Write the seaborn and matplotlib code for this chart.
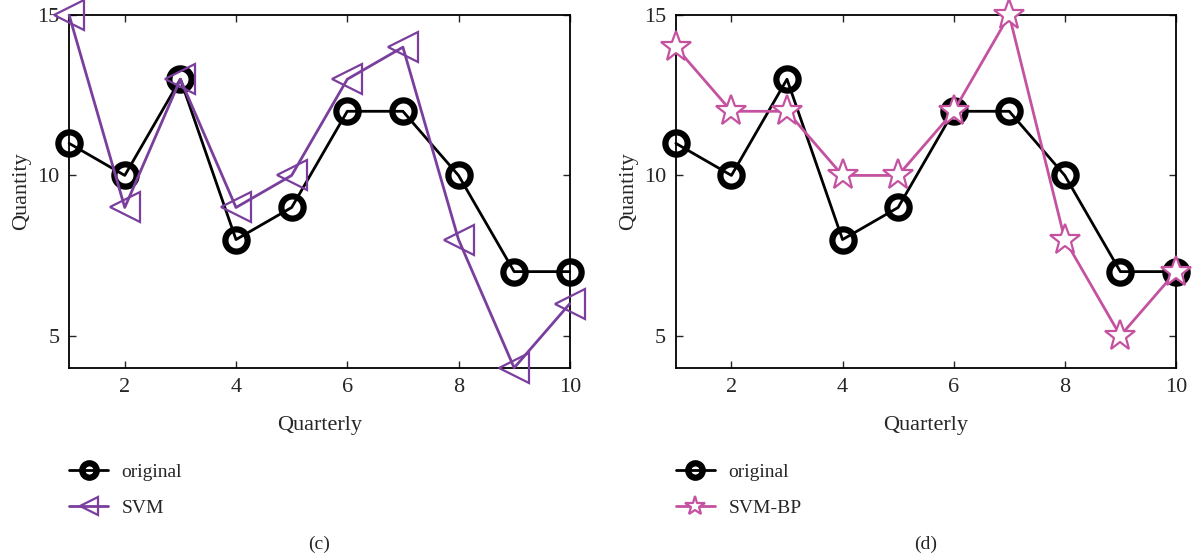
import numpy as np
import matplotlib
matplotlib.use("Agg")
import matplotlib.pyplot as plt
import seaborn as sns

quarters = list(range(1, 11))
original = [11, 10, 13, 8, 9, 12, 12, 10, 7, 7]
svm = [15, 9, 13, 9, 10, 13, 14, 8, 4, 6]
svm_bp = [14, 12, 12, 10, 10, 12, 15, 8, 5, 7]
x_ticks = [2, 4, 6, 8, 10]
y_ticks = [5, 10, 15]

sns.set_style("ticks")
plt.rcParams['font.family'] = ['Liberation Serif', 'DejaVu Serif']
plt.rcParams['font.size'] = 16

fig = plt.figure(figsize=(11.92, 5.59), dpi=100)
ax1 = fig.add_axes([0.058, 0.342, 0.420, 0.631])
ax2 = fig.add_axes([0.567, 0.342, 0.4195, 0.631])

purple = '#7A3E9D'
pink = '#C452A0'


def draw_original(ax):
    sns.lineplot(x=quarters, y=original, ax=ax, color='black', lw=2,
                 marker='o', markersize=16, markerfacecolor='none',
                 markeredgecolor='black', markeredgewidth=4.5,
                 label='original', clip_on=False, zorder=3)


draw_original(ax1)
sns.lineplot(x=quarters, y=svm, ax=ax1, color=purple, lw=2,
             marker='<', markersize=21, markerfacecolor='none',
             markeredgecolor=purple, markeredgewidth=1.6,
             label='SVM', clip_on=False, zorder=4)

draw_original(ax2)
sns.lineplot(x=quarters, y=svm_bp, ax=ax2, color=pink, lw=2,
             marker='*', markersize=23, markerfacecolor='white',
             markeredgecolor=pink, markeredgewidth=1.6,
             label='SVM-BP', clip_on=False, zorder=4)

for ax, cap in [(ax1, '(c)'), (ax2, '(d)')]:
    ax.set_xlim(1, 10)
    ax.set_ylim(4, 15)
    ax.set_xticks(x_ticks)
    ax.set_yticks(y_ticks)
    ax.tick_params(direction='in', top=True, right=True, length=5,
                   labelsize=16, width=1, pad=7)
    for s in ax.spines.values():
        s.set_linewidth(1.3)
        s.set_color('black')
    ax.set_xlabel('Quarterly', fontsize=16, labelpad=14)
    ax.set_ylabel('Quantity', fontsize=16, labelpad=4)
    ax.legend(loc='upper left', bbox_to_anchor=(0.0, -0.27), frameon=False,
              fontsize=14, handlelength=2.0, labelspacing=0.95,
              handletextpad=0.7, markerscale=0.65, borderaxespad=0,
              borderpad=0)
    ax.text(0.5, -0.5, cap, transform=ax.transAxes, ha='center', va='center',
            fontsize=14)

fig.savefig('out.png', dpi=100)
